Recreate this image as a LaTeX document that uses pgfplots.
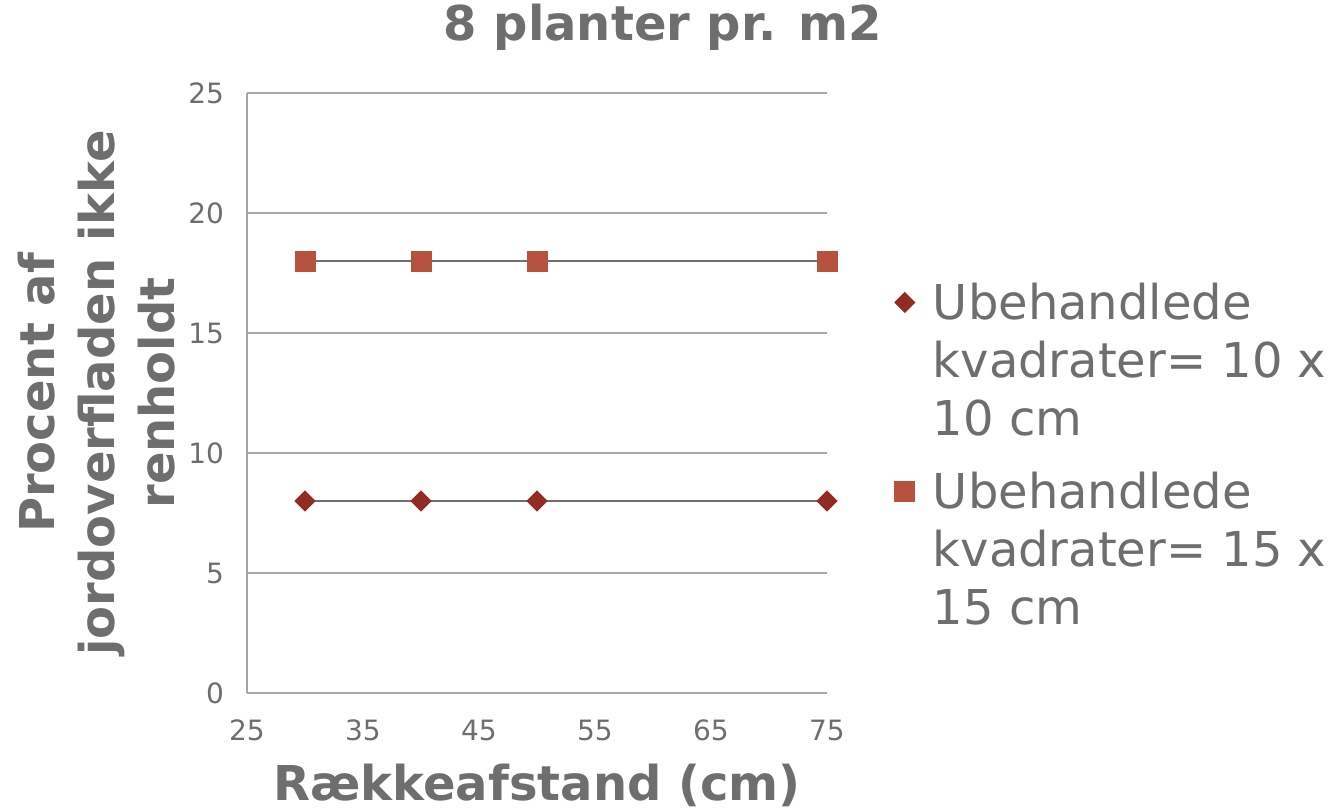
\documentclass[border=0pt]{standalone}
\usepackage{pgfplots}
\pgfplotsset{compat=1.18}
\usepackage{fontspec}
\setmainfont{DejaVu Sans}
\definecolor{txt}{HTML}{6E6E6E}
\definecolor{gridc}{HTML}{A6A6A6}
\definecolor{dia}{HTML}{922B21}
\definecolor{sq}{HTML}{B7523E}
\definecolor{lin}{HTML}{6F6F6F}
\begin{document}
\begin{tikzpicture}
\useasboundingbox (-123.5bp,-58bp) rectangle (542.5bp,346.5bp);
\begin{axis}[
  scale only axis, width=290bp, height=300bp,
  xmin=25, xmax=75, ymin=0, ymax=25,
  xtick={25,35,...,75}, ytick={0,5,...,25},
  axis x line=bottom, axis y line=left,
  axis line style={gridc, line width=1bp, -},
  ymajorgrids, grid style={gridc, line width=1bp},
  major tick length=0pt,
  clip=false,
  tick label style={font=\fontsize{14bp}{16bp}\selectfont, text=txt},
  /pgf/number format/assume math mode=true,
  xticklabel style={yshift=-10bp},
  yticklabel style={xshift=-8bp},
  title={8 planter pr. m2},
  title style={font=\fontsize{24bp}{28bp}\selectfont\bfseries, text=txt,
    at={(axis description cs:0.717,1)}, anchor=base, yshift=20.5bp},
  xlabel={Rækkeafstand (cm)},
  xlabel style={font=\fontsize{24bp}{28bp}\selectfont\bfseries, text=txt,
    at={(axis description cs:0.5,0)}, anchor=base, yshift=-53.5bp},
  ylabel={Procent af\\jordoverfladen ikke\\renholdt},
  ylabel style={font=\fontsize{24bp}{30bp}\selectfont\bfseries, text=txt, align=center,
    at={(axis description cs:-0.2586,0.5)}, anchor=center},
  legend image code/.code={\draw[#1] plot coordinates {(5bp,8.5bp)};},
  legend style={draw=none, fill=none, inner sep=0pt, outer sep=0pt,
    at={(axis description cs:1.117,0.69)}, anchor=north west,
    font=\fontsize{24bp}{29bp}\selectfont, text=txt,
    nodes={text depth=, text height=},
    cells={anchor=base west}, row sep=14bp, column sep=7bp},
]
\addplot[only marks, mark=square*, mark size=3.54bp, mark options={rotate=45, fill=dia, draw=dia}]
  coordinates {(30,8) (40,8) (50,8) (75,8)};
\addlegendentry{\parbox[t]{200bp}{Ubehandlede\\kvadrater= 10 x\\10 cm}}
\addplot[only marks, mark=square*, mark size=5bp, mark options={fill=sq, draw=sq}]
  coordinates {(30,18) (40,18) (50,18) (75,18)};
\addlegendentry{\parbox[t]{200bp}{Ubehandlede\\kvadrater= 15 x\\15 cm}}
\addplot[lin, line width=1bp, forget plot] coordinates {(30,8) (40,8) (50,8) (75,8)};
\addplot[lin, line width=1bp, forget plot] coordinates {(30,18) (40,18) (50,18) (75,18)};
\end{axis}
\end{tikzpicture}
\end{document}
